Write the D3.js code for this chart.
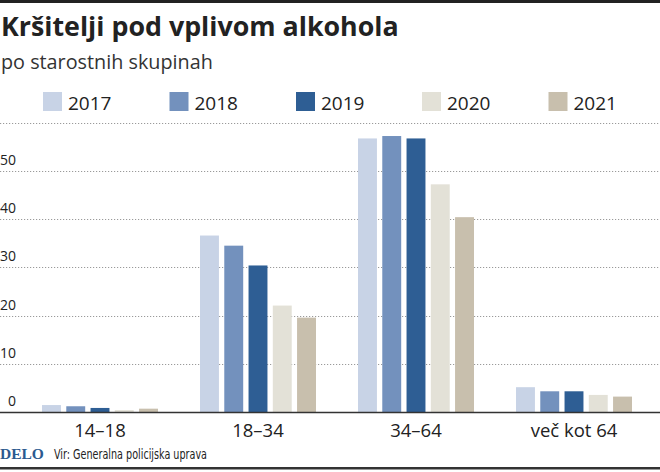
<!DOCTYPE html>
<html>
<head>
<meta charset="utf-8">
<script src="https://cdn.jsdelivr.net/npm/d3@7"></script>
<style>
  html, body { margin: 0; padding: 0; background: #fff; }
  svg { display: block; }
</style>
</head>
<body>
<svg id="chart" width="660" height="472"></svg>
<script>
// ---- data ----
const categories = ["14–18", "18–34", "34–64", "več kot 64"];
const years = ["2017", "2018", "2019", "2020", "2021"];
const values2017 = [1.5, 36.6, 56.7, 5.2];
const values2018 = [1.25, 34.5, 57.2, 4.35];
const values2019 = [0.9, 30.4, 56.7, 4.35];
const values2020 = [0.45, 22.1, 47.2, 3.6];
const values2021 = [0.75, 19.6, 40.4, 3.25];
const yTicks = [0, 10, 20, 30, 40, 50, 60];
const yTickLabels = ["0", "10", "20", "30", "40", "50", ""];
const title = "Kršitelji pod vplivom alkohola";
const subtitle = "po starostnih skupinah";
const source = "Vir: Generalna policijska uprava";

const series = [values2017, values2018, values2019, values2020, values2021];
const colors = ["#c8d3e6", "#7391bd", "#2e5e94", "#e3e1d7", "#c8bfad"];

const svg = d3.select("#chart");
const W = 660, H = 472;
const font = "'Open Sans', 'Noto Sans', sans-serif";

// borders
svg.append("rect").attr("x", 0).attr("y", 0).attr("width", W).attr("height", 3).attr("fill", "#222");
svg.append("rect").attr("x", 0).attr("y", 467).attr("width", W).attr("height", 2.5).attr("fill", "#333");

// title
svg.append("text").attr("x", 1).attr("y", 35.5).text(title)
  .attr("font-family", font).attr("font-weight", 700).attr("font-size", 26.8).attr("fill", "#222");
svg.append("text").attr("x", 1).attr("y", 69).text(subtitle)
  .attr("font-family", font).attr("font-size", 19.8).attr("fill", "#333");

// scales
const x0 = d3.scaleBand().domain(categories).range([21, 653]).paddingInner(0.266).paddingOuter(0.133);
const x1 = d3.scaleBand().domain(years).range([0, x0.bandwidth()]).paddingInner(0.22).paddingOuter(0);
const y = d3.scaleLinear().domain([0, 60]).range([412.3, 122.5]);

// gridlines
const grid = svg.append("g");
grid.selectAll("line").data(yTicks.filter(d => d > 0)).join("line")
  .attr("x1", 0).attr("x2", W)
  .attr("y1", d => Math.round(y(d)) + 0.5).attr("y2", d => Math.round(y(d)) + 0.5)
  .attr("stroke", "#9a9a9a").attr("stroke-width", 1).attr("stroke-dasharray", "1.2,1.8");

// y labels
svg.append("g").selectAll("text").data(yTicks).join("text")
  .attr("x", 16).attr("y", d => y(d) - 6)
  .attr("text-anchor", "end")
  .attr("font-family", font).attr("font-size", 14).attr("fill", "#222")
  .text((d, i) => yTickLabels[i]);

// bars
const groups = svg.append("g").selectAll("g").data(categories).join("g")
  .attr("transform", d => `translate(${x0(d)},0)`);
groups.selectAll("rect").data((c, ci) => years.map((yr, si) => ({yr, v: series[si][ci], si})))
  .join("rect")
  .attr("x", d => x1(d.yr))
  .attr("width", x1.bandwidth())
  .attr("y", d => y(d.v))
  .attr("height", d => y(0) - y(d.v))
  .attr("fill", d => colors[d.si]);

// axis baseline
svg.append("line").attr("x1", 0).attr("x2", W).attr("y1", 412.5).attr("y2", 412.5)
  .attr("stroke", "#333").attr("stroke-width", 1.6);

// category labels
svg.append("g").selectAll("text").data(categories).join("text")
  .attr("x", d => x0(d) + x0.bandwidth() / 2).attr("y", 436.5)
  .attr("text-anchor", "middle")
  .attr("font-family", font).attr("font-size", 18.5).attr("fill", "#222")
  .text(d => d);

// legend
const legendX = [43, 169.5, 296, 422, 548.5];
const lg = svg.append("g").selectAll("g").data(years).join("g")
  .attr("transform", (d, i) => `translate(${legendX[i]},92)`);
lg.append("rect").attr("width", 19).attr("height", 19).attr("fill", (d, i) => colors[i]);
lg.append("text").attr("x", 25).attr("y", 18)
  .attr("font-family", font).attr("font-size", 19).attr("fill", "#222").text(d => d);

// footer
svg.append("text").attr("x", 0).attr("y", 458.5).text("DELO")
  .attr("font-family", "'Liberation Serif', 'DejaVu Serif', serif").attr("font-weight", 700)
  .attr("font-size", 15.5).attr("fill", "#2c5a8f");
svg.append("text").attr("x", 54).attr("y", 458.5).text(source)
  .attr("font-family", "'DejaVu Sans Condensed', 'Liberation Sans Narrow', sans-serif")
  .attr("font-size", 14).attr("fill", "#222")
  .attr("textLength", 153).attr("lengthAdjust", "spacingAndGlyphs");
</script>
</body>
</html>
